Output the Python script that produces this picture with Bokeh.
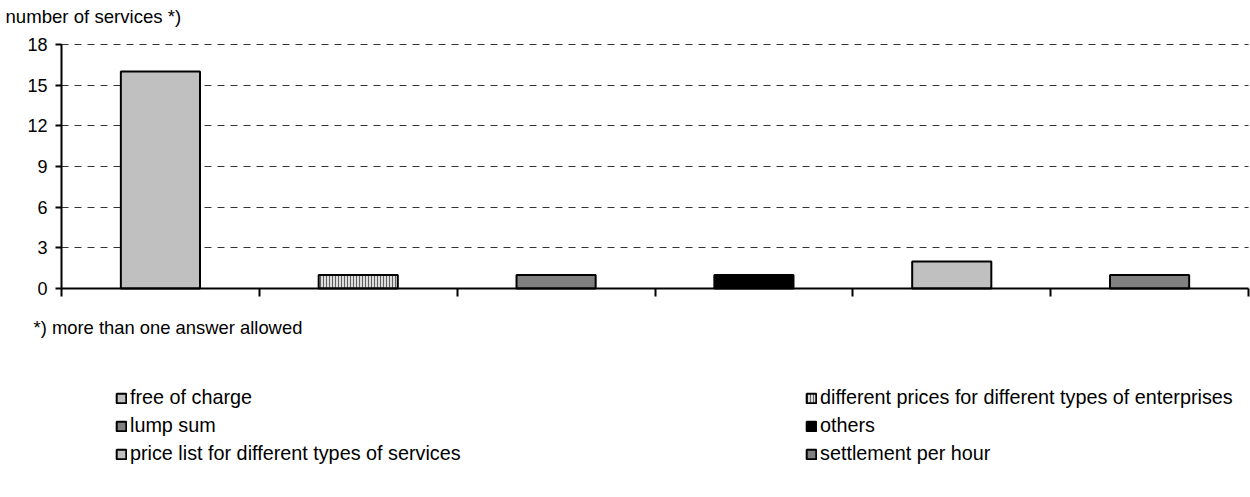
from bokeh.plotting import figure
from bokeh.models import Legend, LegendItem, Label, FixedTicker, Range1d
from bokeh.embed import file_html
from bokeh.resources import INLINE

# ---- data ----
categories = [
    "free of charge",
    "different prices for different types of enterprises",
    "lump sum",
    "others",
    "price list for different types of services",
    "settlement per hour",
]
values = [16, 1, 1, 1, 2, 1]
y_ticks = [0, 3, 6, 9, 12, 15, 18]
y_title = "number of services *)"
footnote = "*) more than one answer allowed"

# ---- styles ----
fills = ["#C0C0C0", "#DCDCDC", "#808080", "#000000", "#C0C0C0", "#808080"]
hatches = [None, "|", None, None, None, None]
FONT = "Liberation Sans"

W, H = 1250, 497
AX_L, AX_R = 61, 1248      # pixel positions of the x extent of the axes
AX_T, AX_B = 44, 288       # pixel positions of y=max and y=0

n = len(categories)
ymax = y_ticks[-1]
xs = (AX_R - AX_L) / n
ys = (AX_B - AX_T) / ymax
p = figure(
    width=W, height=H,
    x_range=Range1d(-AX_L / xs, n + (W - AX_R) / xs),
    y_range=Range1d(-(H - AX_B) / ys, ymax + AX_T / ys),
    output_backend="svg", toolbar_location=None,
    min_border_left=0, min_border_right=0, min_border_top=0, min_border_bottom=0,
)
p.outline_line_color = None
p.background_fill_color = "white"
p.border_fill_color = "white"

bars = []
for i, (cat, v) in enumerate(zip(categories, values)):
    kw = dict(x=[i + 0.5], top=[v], bottom=[0], width=0.4,
              fill_color=fills[i], line_color="black", line_width=2)
    if hatches[i]:
        kw.update(hatch_pattern=hatches[i], hatch_color="#606060",
                  hatch_scale=3, hatch_weight=1)
    bars.append((cat, p.vbar(**kw)))

# axes (fixed at the data origin)
p.xaxis.fixed_location = 0
p.xaxis.bounds = (0, n)
p.xaxis.ticker = FixedTicker(ticks=list(range(n + 1)))
p.xaxis.major_label_overrides = {i: "" for i in range(n + 1)}
p.xaxis.major_tick_out = 8
p.xaxis.major_tick_in = 0
p.xaxis.minor_tick_line_color = None
p.xaxis.axis_line_width = 2
p.xaxis.major_tick_line_width = 2
p.xaxis.axis_line_color = "black"

p.yaxis.fixed_location = 0
p.yaxis.bounds = (0, ymax)
p.yaxis.ticker = FixedTicker(ticks=y_ticks)
p.yaxis.major_tick_out = 6
p.yaxis.major_tick_in = 0
p.yaxis.minor_tick_line_color = None
p.yaxis.axis_line_width = 2
p.yaxis.major_tick_line_width = 2
p.yaxis.axis_line_color = "black"
p.yaxis.major_label_text_font = FONT
p.yaxis.major_label_text_font_size = "18px"
p.yaxis.major_label_text_color = "black"
p.yaxis.major_label_standoff = 8

p.xgrid.grid_line_color = None
p.ygrid.ticker = FixedTicker(ticks=y_ticks[1:])
p.ygrid.cross_bounds = (0, n)
p.ygrid.grid_line_color = "#333333"
p.ygrid.grid_line_dash = "7 6"
p.ygrid.grid_line_width = 1

# texts
p.add_layout(Label(x=5, y=H - 16, x_units="screen", y_units="screen", text=y_title,
                   text_font=FONT, text_font_size="18.6px", text_baseline="middle",
                   text_color="black"))
p.add_layout(Label(x=33, y=H - 327, x_units="screen", y_units="screen", text=footnote,
                   text_font=FONT, text_font_size="18.4px", text_baseline="middle",
                   text_color="black"))

common = dict(orientation="vertical", glyph_width=12, glyph_height=12, label_standoff=3,
              label_height=20, spacing=5, padding=2, margin=0,
              label_text_font=FONT, label_text_font_size="19.8px",
              label_text_color="black", border_line_color=None,
              background_fill_alpha=0)
left_items = [LegendItem(label=c, renderers=[r]) for c, r in bars[0::2]]
right_items = [LegendItem(label=c, renderers=[r]) for c, r in bars[1::2]]
p.add_layout(Legend(items=left_items, location=(115, 32), **common), "center")
p.add_layout(Legend(items=right_items, location=(805, 32), **common), "center")

open("out.html", "w").write(file_html(p, INLINE))
